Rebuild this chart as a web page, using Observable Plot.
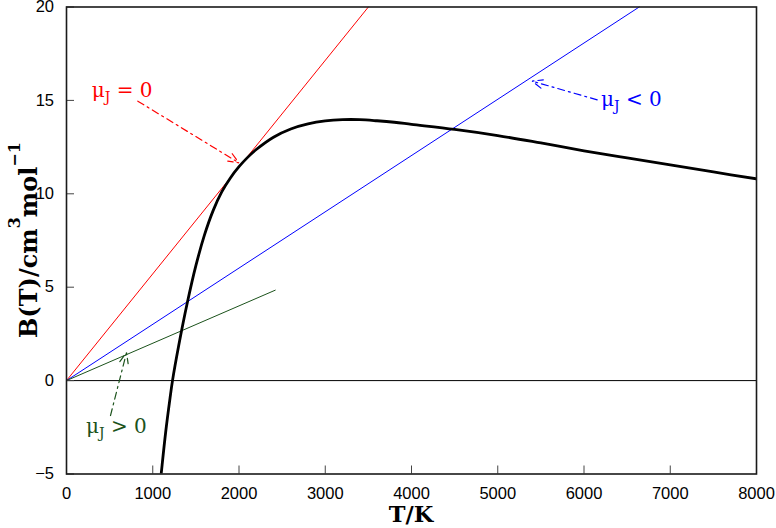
<!DOCTYPE html>
<html>
<head>
<meta charset="utf-8">
<script src="https://cdn.jsdelivr.net/npm/d3@7"></script>
<script src="https://cdn.jsdelivr.net/npm/@observablehq/plot@0.6"></script>
<style>
  body { margin: 0; background: #fff; }
</style>
</head>
<body>
<div id="chart"></div>
<script>
// Second virial coefficient B(T) in cm^3/mol against temperature in K
const temperature = [1080, 1100, 1150, 1200, 1229, 1300, 1400, 1500, 1600, 1700, 1800, 1900,
  2000, 2100, 2200, 2400, 2600, 2800, 3000, 3200, 3400, 3600, 3800, 4000,
  4500, 5000, 5500, 6000, 6500, 7000, 7500, 8000];
const virialB = [-5.8, -4.9, -2.75, -0.95, 0, 1.85, 4.15, 6.15, 7.8, 9.1, 10.1, 10.85,
  11.45, 11.95, 12.37, 13.03, 13.47, 13.74, 13.9, 13.97, 13.97, 13.91, 13.83, 13.72,
  13.45, 13.12, 12.72, 12.3, 11.92, 11.55, 11.17, 10.8];

// Straight lines through the origin: B = T (dB/dT) for the three Joule–Thomson regimes
const lineZeroT = [0, 3500];   const lineZeroB = [0, 20];     // μJ = 0 (tangent)
const lineNegT  = [0, 6640];   const lineNegB  = [0, 20];     // μJ < 0
const linePosT  = [0, 2420];   const linePosB  = [0, 4.84];   // μJ > 0

// Annotation labels: text anchor and arrow (from -> to) in data units
const annRelation = ["= 0", "< 0", "> 0"];
const annTextT = [298, 6203, 232];
const annTextB = [15.13, 14.68, -2.82];
const annFromT = [827, 6153, 510];
const annFromB = [14.96, 15.03, -1.87];
const annToT   = [1998, 5399, 696];
const annToB   = [11.66, 16.03, 1.5];

const xTicks = [0, 1000, 2000, 3000, 4000, 5000, 6000, 7000, 8000];
const yTicks = [-5, 0, 5, 10, 15, 20];

const colors = ["#ff0000", "#0000ff", "#1b521b"];

const curve = temperature.map((t, i) => ({T: t, B: virialB[i]}));
const toPts = (ts, bs) => ts.map((t, i) => ({T: t, B: bs[i]}));
const arrows = annRelation.map((r, i) => ({
  x1: annFromT[i], y1: annFromB[i], x2: annToT[i], y2: annToB[i], c: colors[i]
}));

const W = 776, H = 528;
const M = {top: 6.5, right: 20, bottom: 54.5, left: 66};
const plotH = H - M.top - M.bottom;
const plotW = W - M.left - M.right;
const tick = 8;

const chart = Plot.plot({
  width: W, height: H,
  marginTop: M.top, marginRight: M.right, marginBottom: M.bottom, marginLeft: M.left,
  x: {domain: [0, 8000]},
  y: {domain: [-5, 20]},
  style: {
    fontFamily: "'Liberation Sans', Arial, Helvetica, sans-serif",
    fontSize: "16.5px",
    color: "black",
    background: "white"
  },
  marks: [
    Plot.ruleY([0], {stroke: "black", strokeWidth: 1}),
    Plot.line(toPts(lineZeroT, lineZeroB), {x: "T", y: "B", stroke: colors[0], strokeWidth: 1}),
    Plot.line(toPts(lineNegT, lineNegB), {x: "T", y: "B", stroke: colors[1], strokeWidth: 1}),
    Plot.line(toPts(linePosT, linePosB), {x: "T", y: "B", stroke: colors[2], strokeWidth: 1}),
    Plot.line(curve, {x: "T", y: "B", stroke: "black", strokeWidth: 2.8, curve: "catmull-rom", clip: true}),
    Plot.arrow(arrows, {
      x1: "x1", y1: "y1", x2: "x2", y2: "y2", stroke: "c",
      strokeWidth: 1.2, strokeDasharray: "7,4,2,4", headLength: 14, headAngle: 45
    }),
    // inward tick marks
    Plot.gridX(xTicks, {stroke: "#444", strokeOpacity: 1, strokeWidth: 1, insetTop: plotH - tick}),
    Plot.gridY(yTicks, {stroke: "#444", strokeOpacity: 1, strokeWidth: 1, insetRight: plotW - tick}),
    Plot.axisX({ticks: xTicks, tickSize: 0, tickPadding: 13.5, tickFormat: d3.format("d"), label: null}),
    Plot.axisY({ticks: yTicks, tickSize: 0, tickPadding: 12.5, label: null}),
    Plot.frame({stroke: "#1a1a1a", strokeWidth: 1.6})
  ]
});

document.getElementById("chart").appendChild(chart);

const svg = d3.select(chart);
const sx = chart.scale("x"), sy = chart.scale("y");
const serif = "'DejaVu Serif', 'Liberation Serif', serif";

// Axis titles
svg.append("text")
  .attr("x", (M.left + W - M.right) / 2).attr("y", 522)
  .attr("text-anchor", "middle")
  .attr("font-family", serif).attr("font-weight", "bold").attr("font-size", 22.5)
  .attr("fill", "black")
  .text("T/K");

const yt = svg.append("text")
  .attr("transform", `translate(37,${M.top + plotH / 2}) rotate(-90)`)
  .attr("text-anchor", "middle")
  .attr("font-family", serif).attr("font-weight", "bold").attr("font-size", 24)
  .attr("fill", "black");
yt.append("tspan").text("B(T)/cm");
yt.append("tspan").attr("font-size", 16).attr("dy", -17).text("3");
yt.append("tspan").attr("font-size", 24).attr("dy", 17).text("mol");
yt.append("tspan").attr("font-size", 16).attr("dy", -17).text("\u22121");

// μJ annotations
annRelation.forEach((rel, i) => {
  const t = svg.append("text")
    .attr("x", sx.apply(annTextT[i])).attr("y", sy.apply(annTextB[i]))
    .attr("text-anchor", "start")
    .attr("font-family", serif).attr("font-size", 20)
    .attr("fill", colors[i]);
  t.append("tspan").text("\u03bc");
  t.append("tspan").attr("font-size", 14).attr("dy", 5).text("J");
  t.append("tspan").attr("font-size", 20).attr("dy", -5).text("\u00a0" + rel);
});
</script>
</body>
</html>
